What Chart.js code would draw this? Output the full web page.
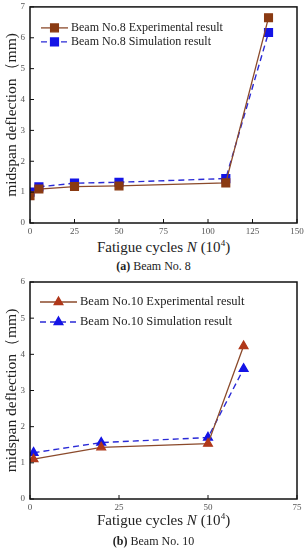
<!DOCTYPE html>
<html>
<head>
<meta charset="utf-8">
<script src="https://cdn.jsdelivr.net/npm/chart.js@4.4.1/dist/chart.umd.min.js"></script>
<style>
    body { margin: 0; background: #fff; width: 307px; height: 550px; position: relative; overflow: hidden; font-family: 'Liberation Serif', serif; color: #222; }
    .cv { position: absolute; left: 0; width: 307px; }
    .xt { position: absolute; left: 30px; width: 267px; text-align: center; font-size: 15px; line-height: 18px; }
    .xt sup { font-size: 9px; vertical-align: 0; position: relative; top: -6px; }
    .cap { position: absolute; left: 0; width: 307px; text-align: center; font-size: 12px; line-height: 14px; }
</style>
</head>
<body>
<div class="cv" style="top:0;height:238px"><canvas id="beam8Chart"></canvas></div>
<div class="xt" style="top:238px">Fatigue cycles <i>N</i> (10<sup>4</sup>)</div>
<div class="cap" style="top:259px"><b>(a)</b> Beam No. 8</div>

<div class="cv" style="top:275px;height:240px"><canvas id="beam10Chart"></canvas></div>
<div class="xt" style="top:511px">Fatigue cycles <i>N</i> (10<sup>4</sup>)</div>
<div class="cap" style="top:534px"><b>(b)</b> Beam No. 10</div>

<script>
// Beam No. 8 (x in 10^4 cycles, deflection in mm)
const beam8Cycles = [0, 5, 25, 50, 110, 134];
const beam8Exp = [0.88, 1.10, 1.18, 1.20, 1.30, 6.65];
const beam8Sim = [1.00, 1.17, 1.29, 1.32, 1.44, 6.17];
const beam8XRange = [0, 150, 25];
const beam8YRange = [0, 7, 1];

// Beam No. 10
const beam10Cycles = [1, 20, 50, 60];
const beam10Exp = [1.10, 1.43, 1.53, 4.23];
const beam10Sim = [1.28, 1.56, 1.70, 3.60];
const beam10XRange = [0, 75, 25];
const beam10YRange = [0, 6, 1];

const tickFont = { family: "'Liberation Serif', serif", size: 9 };

// frame + inward ticks
const frameTicks = {
    id: 'frameTicks',
    afterDraw(chart) {
        const ctx = chart.ctx;
        const a = chart.chartArea;
        ctx.save();
        ctx.strokeStyle = '#111';
        ctx.lineWidth = 1;
        chart.scales.x.ticks.forEach(t => {
            const px = chart.scales.x.getPixelForValue(t.value);
            ctx.beginPath(); ctx.moveTo(px, a.bottom); ctx.lineTo(px, a.bottom - 4); ctx.stroke();
        });
        chart.scales.y.ticks.forEach(t => {
            const py = chart.scales.y.getPixelForValue(t.value);
            ctx.beginPath(); ctx.moveTo(a.left, py); ctx.lineTo(a.left + 4, py); ctx.stroke();
        });
        ctx.lineWidth = 1.5;
        ctx.strokeRect(a.left, a.top, a.right - a.left, a.bottom - a.top);
        ctx.restore();
    }
};

// legend drawn inside the plot area
const insideLegend = {
    id: 'insideLegend',
    afterDatasetsDraw(chart, args, o) {
        const ctx = chart.ctx;
        const a = chart.chartArea;
        ctx.save();
        chart.data.datasets.forEach((ds, i) => {
            const y = a.top + o.rowY[i];
            const x0 = a.left + o.lineX[0];
            const x1 = a.left + o.lineX[1];
            ctx.strokeStyle = ds.borderColor;
            ctx.lineWidth = ds.borderWidth;
            ctx.setLineDash(ds.borderDash || []);
            ctx.beginPath(); ctx.moveTo(x0, y); ctx.lineTo(x1, y); ctx.stroke();
            ctx.setLineDash([]);
            ctx.fillStyle = ds.pointBackgroundColor;
            ctx.strokeStyle = ds.pointBorderColor;
            Chart.helpers.drawPoint(ctx, { pointStyle: ds.pointStyle, radius: ds.pointRadius, borderWidth: 1 }, (x0 + x1) / 2, y);
            ctx.fillStyle = '#222';
            ctx.font = o.font;
            ctx.textBaseline = 'middle';
            ctx.fillText(ds.label, a.left + o.textX, y);
        });
        ctx.restore();
    }
};

function buildChart(id, cfg) {
    const ctx = document.getElementById(id).getContext('2d');
    return new Chart(ctx, {
        type: 'line',
        data: {
            datasets: [{
                label: cfg.expLabel,
                data: cfg.cycles.map((c, i) => ({ x: c, y: cfg.exp[i] })),
                borderColor: '#8b4a2b',
                borderWidth: 1.3,
                pointStyle: cfg.marker,
                pointRadius: cfg.markerSize,
                pointBackgroundColor: cfg.expFill,
                pointBorderColor: cfg.expFill,
                tension: 0
            }, {
                label: cfg.simLabel,
                data: cfg.cycles.map((c, i) => ({ x: c, y: cfg.sim[i] })),
                borderColor: '#2a2ad6',
                borderWidth: 1.4,
                borderDash: [6, 4],
                pointStyle: cfg.marker,
                pointRadius: cfg.markerSize,
                pointBackgroundColor: '#1414e6',
                pointBorderColor: '#1414e6',
                tension: 0
            }]
        },
        options: {
            responsive: true,
            maintainAspectRatio: false,
            animation: false,
            layout: { padding: { top: cfg.padTop, right: 10, left: 0, bottom: 0 } },
            plugins: {
                legend: { display: false },
                tooltip: { enabled: false },
                insideLegend: cfg.legend
            },
            scales: {
                x: {
                    type: 'linear',
                    min: cfg.xRange[0], max: cfg.xRange[1],
                    ticks: { stepSize: cfg.xRange[2], font: tickFont, color: '#555', padding: 3, maxRotation: 0 },
                    grid: { display: false, drawTicks: false },
                    border: { display: false },
                    afterFit: s => { s.height = cfg.xHeight; s.paddingLeft = 0; s.paddingRight = 0; }
                },
                y: {
                    min: cfg.yRange[0], max: cfg.yRange[1],
                    ticks: { stepSize: cfg.yRange[2], font: tickFont, color: '#555', padding: 5 },
                    grid: { display: false, drawTicks: false },
                    border: { display: false },
                    title: {
                        display: true,
                        text: 'midspan deflection（mm)',
                        font: { family: "'Liberation Serif', serif", size: 15.5 },
                        color: '#222',
                        padding: { top: 3, bottom: 0 }
                    },
                    afterFit: s => { s.width = 30; s.paddingTop = 0; s.paddingBottom = 0; }
                }
            }
        },
        plugins: [frameTicks, insideLegend]
    });
}

buildChart('beam8Chart', {
    cycles: beam8Cycles, exp: beam8Exp, sim: beam8Sim,
    xRange: beam8XRange, yRange: beam8YRange,
    expLabel: 'Beam No.8 Experimental result',
    simLabel: 'Beam No.8 Simulation result',
    marker: 'rect', markerSize: 5.5, expFill: '#8a3a12',
    padTop: 5, xHeight: 15,
    legend: { rowY: [21, 35], lineX: [11, 38], textX: 41, font: "12px 'Liberation Serif', serif" }
});

buildChart('beam10Chart', {
    cycles: beam10Cycles, exp: beam10Exp, sim: beam10Sim,
    xRange: beam10XRange, yRange: beam10YRange,
    expLabel: 'Beam No.10 Experimental result',
    simLabel: 'Beam No.10 Simulation result',
    marker: 'triangle', markerSize: 5, expFill: '#b0381a',
    padTop: 7, xHeight: 16,
    legend: { rowY: [20, 40], lineX: [10, 47], textX: 50, font: "12.5px 'Liberation Serif', serif" }
});
</script>
</body>
</html>
